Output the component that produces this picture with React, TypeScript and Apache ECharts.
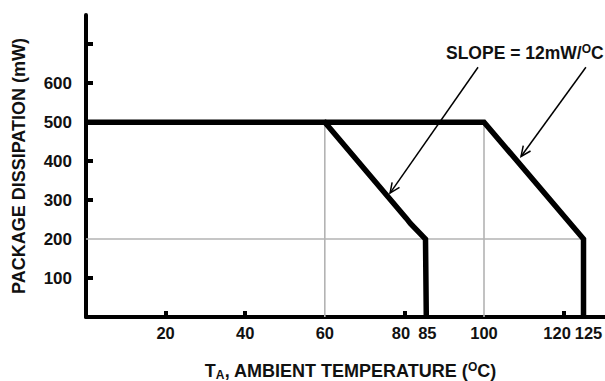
import React, { useEffect, useRef } from "react";
import * as echarts from "echarts";

const xLabelValues = [20, 40, 60, 80, 85, 100, 120, 125, 130];
const xTickValues = [20, 40, 80, 120];
const yLabelValues = [100, 200, 300, 400, 500, 600];
const yTickValues = [100, 300, 400, 600, 700];

// Derating curve for the 85°C part
const curve85 = [
  [0.5, 500],
  [60, 500],
  [80.5, 253],
  [81.5, 240],
  [85.3, 200],
  [85.5, 0],
];
// Derating curve for the 125°C part
const curve125 = [
  [60, 500],
  [100, 500],
  [125, 200],
  [125, 0],
];
// Guide lines [x1, y1, x2, y2]
const guides = [
  [60, 0, 60, 500],
  [100, 0, 100, 500],
  [0, 200, 125, 200],
];
// Annotation arrows [fromX, fromY, toX, toY]
const arrows = [
  [98.5, 641, 76.4, 318],
  [125.6, 641, 109.3, 412],
];

const FONT = "'Liberation Sans', Arial, Helvetica, sans-serif";
const labelBase = { fontFamily: FONT, fontWeight: "bold", fontSize: 17, color: "#111" };
const xLabelBase = { ...labelBase, fontSize: 16.5 };

export default function App() {
  const ref = useRef<HTMLDivElement>(null);
  useEffect(() => {
    const chart = echarts.init(ref.current!, null, { renderer: "svg" });
    const option: any = {
      animation: false,
      backgroundColor: "#fff",
      grid: { left: 86, right: 0, top: 15, bottom: 64, containLabel: false, outerBoundsMode: "none" },
      xAxis: {
        type: "value",
        min: 0,
        max: 130.4,
        splitLine: { show: false },
        axisLine: { show: true, lineStyle: { color: "#000", width: 4 } },
        axisTick: {
          show: true,
          inside: true,
          length: 6,
          customValues: xTickValues,
          lineStyle: { color: "#000", width: 4 },
        },
        axisLabel: {
          customValues: xLabelValues,
          hideOverlap: false,
          ...xLabelBase,
          margin: 7,
          formatter: (v: number) =>
            v === 130
              ? ""
              : v === 80
              ? "{l|80}"
              : v === 85
              ? "{r|85}"
              : v === 120
              ? "{l2|120}"
              : v === 125
              ? "{r2|125}"
              : "{n|" + v + "}",
          rich: {
            n: { ...xLabelBase },
            l: { ...xLabelBase, padding: [0, 7, 0, 0] },
            l2: { ...xLabelBase, padding: [0, 13, 0, 0] },
            r: { ...xLabelBase, padding: [0, 0, 0, 6] },
            r2: { ...xLabelBase, padding: [0, 0, 0, 10] },
          },
        },
        name: "{t|T}{sub|A}{t|, AMBIENT TEMPERATURE (}{sup|O}{t|C)}",
        nameLocation: "middle",
        nameGap: 44,
        nameTextStyle: {
          padding: [0, 0, 0, 10],
          rich: {
            t: { fontFamily: FONT, fontWeight: "bold", fontSize: 18, color: "#111", lineHeight: 20, verticalAlign: "middle" },
            sub: { fontFamily: FONT, fontWeight: "bold", fontSize: 12, color: "#111", lineHeight: 12, verticalAlign: "bottom" },
            sup: { fontFamily: FONT, fontWeight: "bold", fontSize: 12, color: "#111", lineHeight: 12, verticalAlign: "top" },
          },
        },
      },
      yAxis: {
        type: "value",
        min: 0,
        max: 775,
        splitLine: { show: false },
        axisLine: { show: true, lineStyle: { color: "#000", width: 4 } },
        axisTick: {
          show: true,
          inside: true,
          length: 7,
          customValues: yTickValues,
          lineStyle: { color: "#000", width: 4 },
        },
        axisLabel: {
          customValues: yLabelValues,
          hideOverlap: false,
          ...labelBase,
          margin: 14,
        },
        name: "PACKAGE DISSIPATION (mW)",
        nameLocation: "middle",
        nameRotate: 90,
        nameGap: 58,
        nameTextStyle: { fontFamily: FONT, fontWeight: "bold", fontSize: 18, color: "#111" },
      },
      graphic: [
        {
          type: "text",
          left: 446,
          top: 43,
          style: {
            text: "{t|SLOPE = 12mW/}{sup|O}{t|C}",
            rich: {
              t: { fontFamily: FONT, fontWeight: "bold", fontSize: 17.5, fill: "#111", lineHeight: 20, verticalAlign: "middle" },
              sup: { fontFamily: FONT, fontWeight: "bold", fontSize: 12, fill: "#111", lineHeight: 12, verticalAlign: "top" },
            },
          },
        },
      ],
      series: [
        {
          type: "custom",
          z: 1,
          silent: true,
          data: guides,
          encode: { x: [0, 2], y: [1, 3] },
          renderItem: (params: any, api: any) => {
            const p1 = api.coord([api.value(0), api.value(1)]);
            const p2 = api.coord([api.value(2), api.value(3)]);
            return {
              type: "line",
              shape: { x1: p1[0], y1: p1[1], x2: p2[0], y2: p2[1] },
              style: { stroke: "#b3b3b3", lineWidth: 1.6 },
            };
          },
        },
        {
          type: "line",
          z: 3,
          data: curve85,
          symbol: "none",
          lineStyle: { color: "#000", width: 5.5, join: "miter", cap: "butt" },
        },
        {
          type: "line",
          z: 3,
          data: curve125,
          symbol: "none",
          lineStyle: { color: "#000", width: 5.5, join: "miter", cap: "butt" },
        },
        {
          type: "custom",
          z: 4,
          silent: true,
          data: arrows,
          encode: { x: [0, 2], y: [1, 3] },
          renderItem: (params: any, api: any) => {
            const p1 = api.coord([api.value(0), api.value(1)]);
            const p2 = api.coord([api.value(2), api.value(3)]);
            const dx = p2[0] - p1[0];
            const dy = p2[1] - p1[1];
            const len = Math.hypot(dx, dy);
            const ux = dx / len;
            const uy = dy / len;
            const bx = p2[0] - ux * 10;
            const by = p2[1] - uy * 10;
            const px = -uy * 4.5;
            const py = ux * 4.5;
            return {
              type: "group",
              children: [
                {
                  type: "line",
                  shape: { x1: p1[0], y1: p1[1], x2: p2[0], y2: p2[1] },
                  style: { stroke: "#000", lineWidth: 1.5 },
                },
                {
                  type: "polyline",
                  shape: { points: [[bx + px, by + py], [p2[0], p2[1]], [bx - px, by - py]] },
                  style: { stroke: "#000", lineWidth: 1.5, fill: null },
                },
              ],
            };
          },
        },
      ],
    };
    chart.setOption(option);
    return () => chart.dispose();
  }, []);
  return (
    <div
      ref={ref}
      style={{ position: "fixed", left: 0, top: 0, width: 605, height: 381, background: "#fff" }}
    />
  );
}
